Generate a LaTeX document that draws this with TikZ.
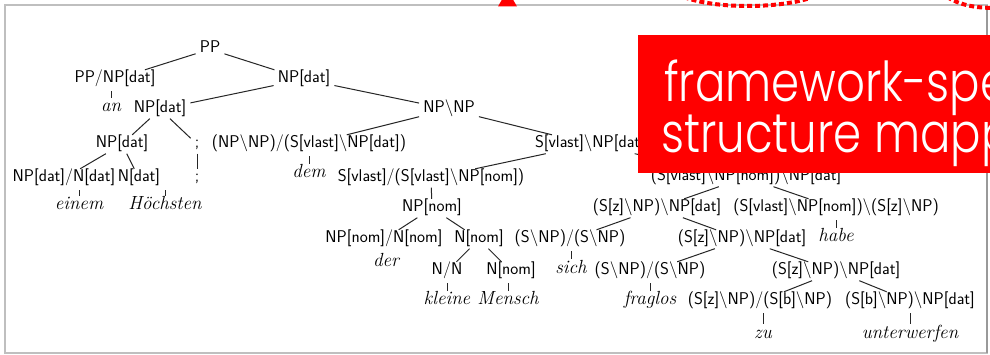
\documentclass[tikz,border=0pt]{standalone}
\usepackage{fontspec}
\usepackage{graphicx}
\IfFontExistsTF{Poppins Light}{\newfontfamily\slidefont{Poppins Light}}{\newfontfamily\slidefont{Poppins}}
\newcommand\bsl{\textbackslash}
\newcommand\bannertext[1]{\scalebox{0.82}[1]{#1}}
\begin{document}
\begin{tikzpicture}[x=1pt,y=-1pt,
  cat/.style={font=\fontsize{17}{20}\sffamily, text=black, inner xsep=4pt, inner ysep=2.5pt,
              text height=10.5pt, text depth=3pt, anchor=base},
  word/.style={font=\fontsize{19}{22}\itshape, text=black, inner xsep=2pt, inner ysep=2pt,
               text height=10pt, text depth=2pt, anchor=base},
  branch/.style={line width=1pt, black!85},
  tick/.style={branch, shorten <=2pt, shorten >=2pt},
  banner/.style={anchor=base west, inner sep=0pt, text=white, font=\fontsize{55}{59}\slidefont}]
\useasboundingbox (0,0) rectangle (990,355);
\clip (0,0) rectangle (990,355);
\fill[white] (0,0) rectangle (990,355);

% slide frame
\draw[gray!50, line width=1.8pt] (5,5) rectangle (987,353);
\draw[gray!80, line width=2.5pt] (987,5) -- (987,353);

% categories and words of the derivation
\node[cat] (pp) at (210,53) {PP};
\node[cat] (ppnp) at (115,83) {PP/NP[dat]};
\node[cat] (npa) at (304,83) {NP[dat]};
\node[word] (an) at (111,112) {an};
\node[cat] (npb) at (160,113) {NP[dat]};
\node[cat] (npnp) at (449,113) {NP\bsl NP};
\node[cat] (npc) at (122,148) {NP[dat]};
\node[cat] (semia) at (197,148) {;};
\node[cat] (rel) at (309,148) {(NP\bsl NP)/(S[vlast]\bsl NP[dat])};
\node[cat] (svd) at (590,148) {S[vlast]\bsl NP[dat]};
\node[cat] (det) at (64,182) {NP[dat]/N[dat]};
\node[cat] (ndat) at (139,182) {N[dat]};
\node[cat] (semib) at (197,182) {;};
\node[word] (dem) at (309,178) {dem};
\node[cat] (tr) at (431,182) {S[vlast]/(S[vlast]\bsl NP[nom])};
\node[cat] (vp) at (746,181) {(S[vlast]\bsl NP[nom])\bsl NP[dat]};
\node[word] (einem) at (79,210) {einem};
\node[word] (hoechsten) at (165,210) {Höchsten};
\node[cat] (npnom) at (432,212) {NP[nom]};
\node[cat] (szd) at (657,212) {(S[z]\bsl NP)\bsl NP[dat]};
\node[cat] (aux) at (836,212) {(S[vlast]\bsl NP[nom])\bsl(S[z]\bsl NP)};
\node[cat] (detn) at (384,243) {NP[nom]/N[nom]};
\node[cat] (nnom) at (479,243) {N[nom]};
\node[cat] (refl) at (570,243) {(S\bsl NP)/(S\bsl NP)};
\node[cat] (szdb) at (742,243) {(S[z]\bsl NP)\bsl NP[dat]};
\node[word] (habe) at (836,242) {habe};
\node[word] (der) at (386,267) {der};
\node[cat] (nn) at (447,275) {N/N};
\node[cat] (nnomb) at (511,275) {N[nom]};
\node[word] (sich) at (571,273) {sich};
\node[cat] (adv) at (650,275) {(S\bsl NP)/(S\bsl NP)};
\node[cat] (szdc) at (836,275) {(S[z]\bsl NP)\bsl NP[dat]};
\node[word] (kleine) at (447,305) {kleine};
\node[word] (mensch) at (508,305) {Mensch};
\node[word] (fraglos) at (650,305) {fraglos};
\node[cat] (zucat) at (760,305) {(S[z]\bsl NP)/(S[b]\bsl NP)};
\node[cat] (verb) at (910,305) {(S[b]\bsl NP)\bsl NP[dat]};
\node[word] (zu) at (763,338) {zu};
\node[word] (unterwerfen) at (910,338) {unterwerfen};

% combination branches
\foreach \p/\c in {pp/ppnp, pp/npa, npa/npb, npa/npnp, npb/npc, npb/semia,
                   npc/det, npc/ndat, npnp/rel, npnp/svd, svd/tr, svd/vp,
                   semia/semib, tr/npnom, npnom/detn, npnom/nnom, nnom/nn, nnom/nnomb,
                   vp/szd, vp/aux, szd/refl, szd/szdb, szdb/adv, szdb/szdc,
                   szdc/zucat, szdc/verb}
  \draw[branch] (\p) -- (\c);

% lexical ticks
\foreach \p/\w in {ppnp/an, det/einem, ndat/hoechsten, rel/dem, nn/kleine,
                   nnomb/mensch, refl/sich, adv/fraglos, aux/habe, zucat/zu, verb/unterwerfen}
  \draw[tick] (\w.north) -- (\w.north |- \p.south);

% red banner
\fill[red] (638,35) rectangle (995,173);
\node[banner] (lineone) at (664,102) {\bannertext{framework-spe}};
\node[banner] (linetwo) at (661,153) {\bannertext{structure mapp}};

% red arrow tip and dotted outline at the top edge
\fill[red] (498,6.5) -- (517,6.5) -- (507.5,-10) -- cycle;
\draw[red, line width=4pt, dash pattern=on 5pt off 3pt]
  (684,-3) .. controls (715,9) and (780,9) .. (813,-3);
\draw[red, line width=4pt, dash pattern=on 5pt off 3pt]
  (947,-3) .. controls (960,5) and (975,8) .. (995,8);
\end{tikzpicture}
\end{document}
